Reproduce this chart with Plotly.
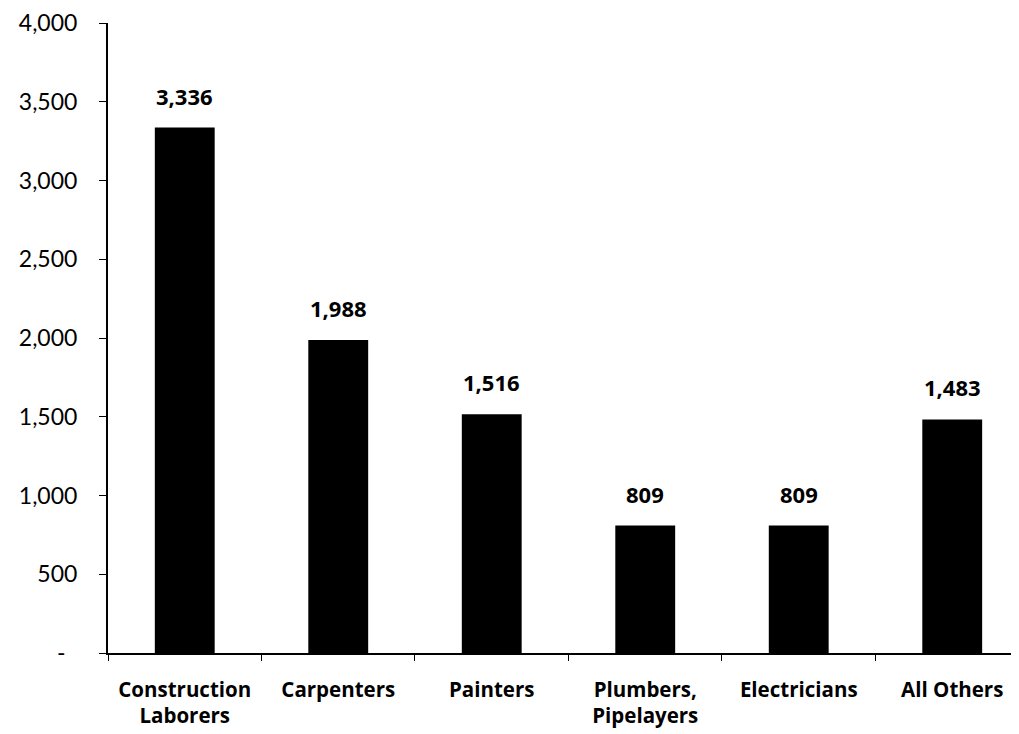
import plotly.graph_objects as go

categories = ["Construction<br>Laborers", "Carpenters", "Painters", "Plumbers,<br>Pipelayers", "Electricians", "All Others"]
values = [3336, 1988, 1516, 809, 809, 1483]
y_tickvals = [0, 500, 1000, 1500, 2000, 2500, 3000, 3500, 4000]
y_ticktext = ["-\u00a0\u00a0", "500", "1,000", "1,500", "2,000", "2,500", "3,000", "3,500", "4,000"]

FONT = "Lato, Open Sans, sans-serif"
BOLD = "Open Sans, Lato, sans-serif"

fig = go.Figure()
fig.add_trace(go.Bar(
    x=categories, y=values,
    marker=dict(color="#000000", line=dict(width=0)),
    width=0.39,
))

for c, v in zip(categories, values):
    fig.add_annotation(x=c, y=v, text=f"<b>{v:,}</b>", showarrow=False,
                       yanchor="bottom", yshift=15,
                       font=dict(family=BOLD, size=22, color="#000"))

fig.update_layout(
    width=1011, height=726,
    margin=dict(l=100, r=0, t=12, b=81),
    paper_bgcolor="white", plot_bgcolor="white",
    showlegend=False,
    font=dict(family=FONT, color="#000"),
)
fig.update_xaxes(
    type="category", range=[-0.5, 5.435],
    showline=True, linecolor="#000", linewidth=2,
    ticks="outside", tickson="boundaries", ticklen=6, tickcolor="#000", tickwidth=1,
    tickfont=dict(family=BOLD, size=20.5, color="#000", weight="bold"),
    ticklabelstandoff=17,
    showgrid=False, zeroline=False,
)
fig.update_yaxes(
    range=[0, 4000], tickvals=y_tickvals, ticktext=y_ticktext,
    showline=True, linecolor="#000", linewidth=2,
    ticks="outside", ticklen=7, tickcolor="#000", tickwidth=1,
    tickfont=dict(family=FONT, size=23, color="#000"),
    ticklabelstandoff=17, ticklabeloverflow="allow",
    showgrid=False, zeroline=False,
)

fig.write_html("out.html")
